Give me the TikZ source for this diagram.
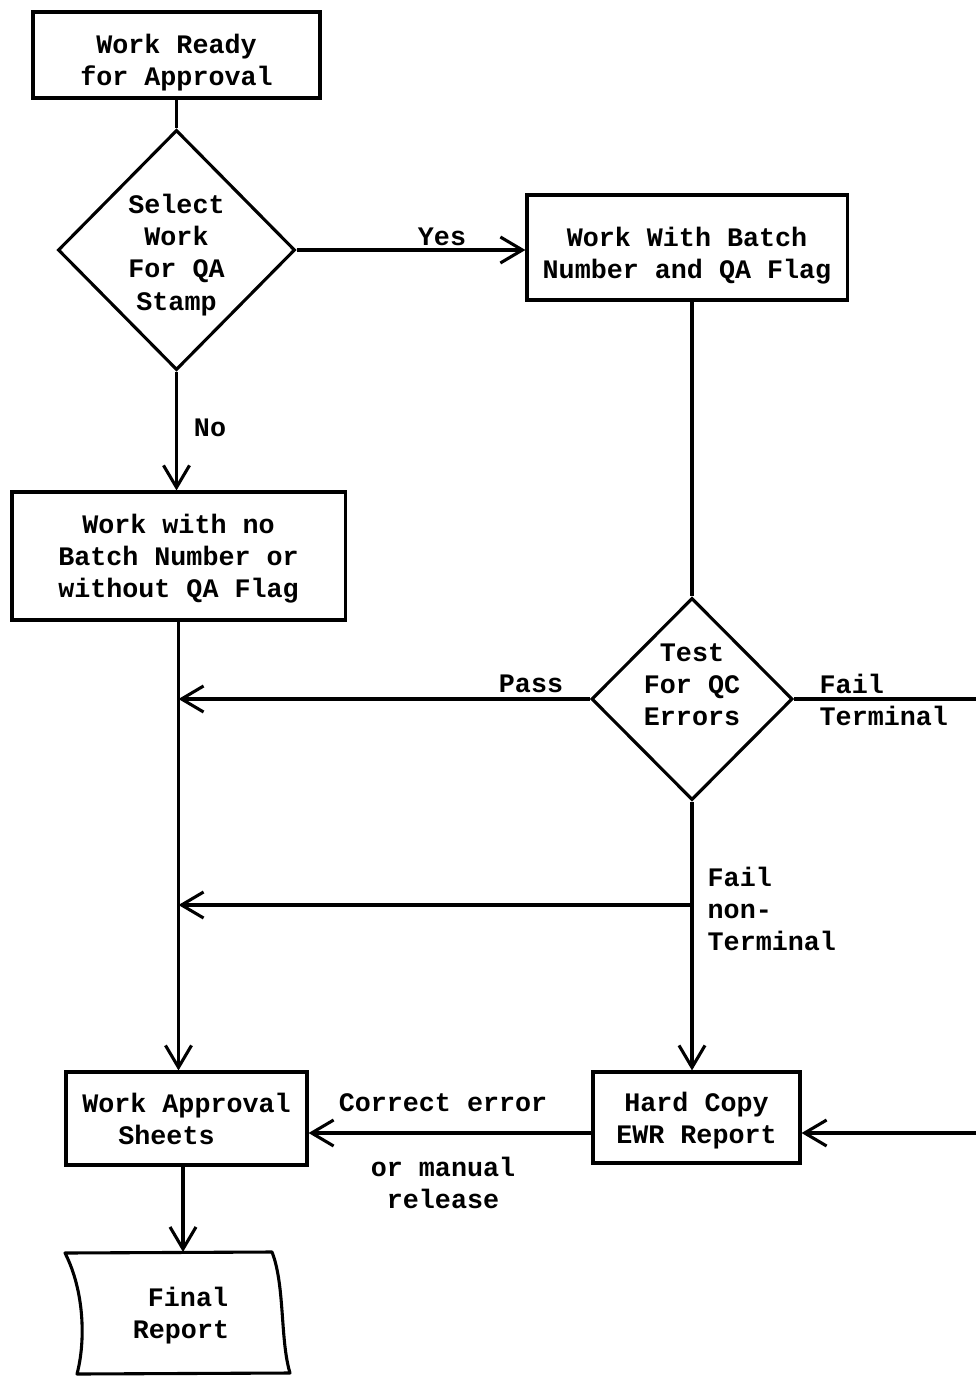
\documentclass[tikz,border=0pt]{standalone}
\usepackage{fontspec}
\setmonofont{Liberation Mono}
\usetikzlibrary{shapes.geometric,arrows.meta}
\begin{document}
\begin{tikzpicture}[x=0.025cm,y=-0.025cm,
  every node/.style={font=\ttfamily\bfseries\fontsize{19}{22.8}\selectfont, align=center},
  box/.style={draw, line width=2.2pt, inner sep=0pt},
  dec/.style={draw, diamond, line width=2.2pt, inner sep=0pt},
  conn/.style={line width=2.2pt},
  arr/.style={line width=2.2pt, -{Straight Barb[length=5.5mm,width=6.5mm,line width=2.2pt]}},
  lbl/.style={inner sep=1pt}]
\useasboundingbox (0,0) rectangle (976,1378);
% nodes
\node[box, minimum width=7.175cm, minimum height=2.15cm,
  label={[yshift=-0.2cm]center:{Work Ready\\for Approval}}] (b1) at (176.5,55) {};
\node[dec, minimum width=5.925cm, minimum height=6cm,
  label={[yshift=-0.125cm]center:{Select\\Work\\For QA\\Stamp}}] (d1) at (176.5,250) {};
\node[box, minimum width=8cm, minimum height=2.625cm,
  label={[yshift=-0.2cm]center:{Work With Batch\\Number and QA Flag}}] (b2) at (687,247.5) {};
\node[box, minimum width=8.325cm, minimum height=3.2cm,
  label={[yshift=-0.075cm]center:{Work with no\\Batch Number or\\without QA Flag}}] (b3) at (178.5,556) {};
\node[dec, minimum width=5.025cm, minimum height=5.05cm,
  label={[yshift=0.35cm]center:{Test\\For QC\\Errors}}] (d2) at (692,699) {};
\node[box, minimum width=6.025cm, minimum height=2.325cm] (ap) at (186.5,1118.5) {Work Approval\\Sheets\hspace*{1cm}};
\node[box, minimum width=5.175cm, minimum height=2.275cm,
  label={[yshift=-0.075cm]center:{Hard Copy\\EWR Report}}] (hc) at (696.5,1117.5) {};
% final report (document shape)
\draw[line width=2.2pt, line join=round] (65,1253) -- (272,1252) .. controls (285,1285) and (280,1340) .. (290,1373) -- (77,1374) .. controls (86,1340) and (84,1290) .. (65,1253) -- cycle;
\node (fr) at (181,1316) {\hspace*{0.35cm}Final\\Report};
\coordinate (frtop) at (183,1252);
% helper coordinates
\coordinate (ya) at (0,1133);
\coordinate (re) at (976,1133);
\coordinate (yb) at (0,905);
\coordinate (br) at (d2.south |- yb);
% connectors
\draw[conn] (b1.south) -- (d1.north);
\draw[arr] (d1.east) -- (b2.west |- d1.east);
\draw[conn] (d2.north |- b2.south) -- (d2.north);
\draw[arr] (d1.south) -- (d1.south |- b3.north);
\draw[arr] (b3.south) -- (b3.south |- ap.north);
\draw[arr] (d2.west) -- (d2.west -| b3.south);
\draw[arr] (br) -- (br -| b3.south);
\draw[conn] (d2.east) -- (d2.east -| re);
\draw[arr] (d2.south) -- (d2.south |- hc.north);
\draw[arr] (hc.west |- ya) -- (ap.east |- ya);
\draw[arr] (re) -- (hc.east |- re);
\draw[arr] (ap.south -| frtop) -- (frtop);
% labels
\node[lbl] (lyes) at (442,237) {Yes};
\node[lbl] (lno) at (210,428) {No};
\node[lbl] (lpass) at (531,684) {Pass};
\node[lbl, anchor=west, align=left] (lft) at (818,700) {Fail\\Terminal};
\node[lbl, anchor=west, align=left] (lfn) at (706,909) {Fail\\non-\\Terminal};
\node[lbl] (lce) at (443,1103) {Correct error};
\node[lbl] (lom) at (443,1183) {or manual\\release};
\end{tikzpicture}
\end{document}
